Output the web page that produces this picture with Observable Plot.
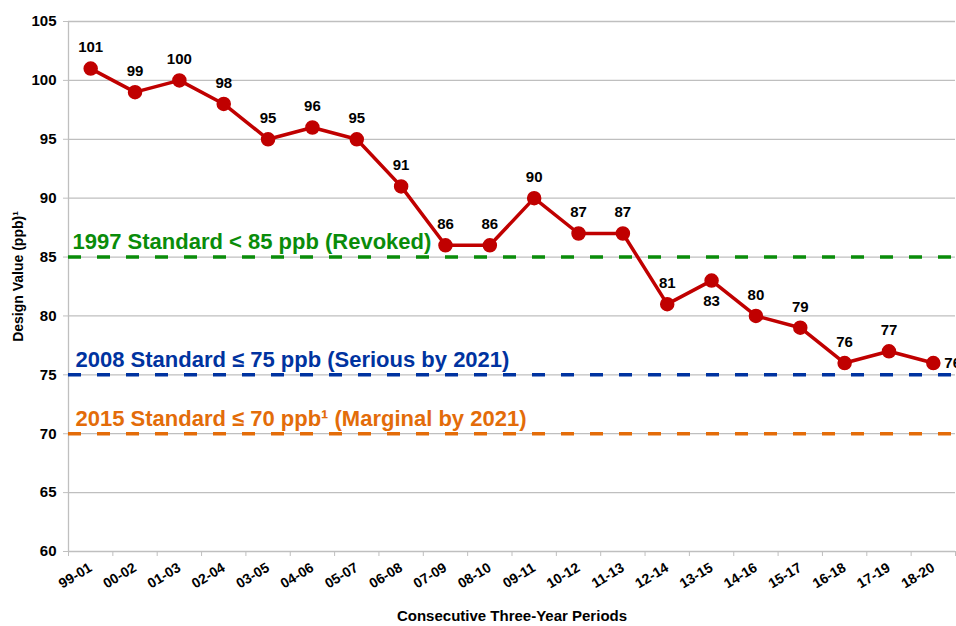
<!DOCTYPE html>
<html>
<head>
<meta charset="utf-8">
<script src="https://cdn.jsdelivr.net/npm/d3@7"></script>
<script src="https://cdn.jsdelivr.net/npm/@observablehq/plot@0.6"></script>
<style>
  html, body { margin: 0; padding: 0; background: #fff; }
  #chart svg { display: block; }
</style>
</head>
<body>
<div id="chart"></div>
<script>
const periods = ["99-01","00-02","01-03","02-04","03-05","04-06","05-07","06-08","07-09","08-10",
                 "09-11","10-12","11-13","12-14","13-15","14-16","15-17","16-18","17-19","18-20"];
const designValues = [101, 99, 100, 98, 95, 96, 95, 91, 86, 86, 90, 87, 87, 81, 83, 80, 79, 76, 77, 76];
const yTicks = [60, 65, 70, 75, 80, 85, 90, 95, 100, 105];
const stdValues = [85, 75, 70];
const stdLabels = [
  "1997 Standard < 85 ppb (Revoked)",
  "2008 Standard \u2264 75 ppb (Serious by 2021)",
  "2015 Standard \u2264 70 ppb\u00B9 (Marginal by 2021)"
];
const stdColors = ["#0A8C0A", "#0033A0", "#E36C09"];
const xTitle = "Consecutive Three-Year Periods";
const yTitle = "Design Value (ppb)\u00B9";

const data = periods.map((p, i) => ({i, period: p, v: designValues[i]}));
const centers = periods.map((p, i) => i);
const boundaries = d3.range(periods.length + 1).map(i => i - 0.5);
const last = data.length - 1;
const below = periods.indexOf("13-15");

const grid = "#BFBFBF";
const red = "#C00000";

const stdMarks = stdValues.flatMap((v, k) => [
  Plot.ruleY([v], {stroke: stdColors[k], strokeWidth: 3.5, strokeDasharray: "13,16"}),
  Plot.text([stdLabels[k]], {
    y: () => v, frameAnchor: "left", textAnchor: "start", lineAnchor: "bottom",
    dx: k === 0 ? 4 : 7, dy: -8, fill: stdColors[k], fontSize: 22, fontWeight: "bold"
  })
]);

const labelStyle = {fontSize: 15, fontWeight: "bold", fill: "#000"};

const chart = Plot.plot({
  width: 956,
  height: 626,
  marginTop: 21,
  marginBottom: 75,
  marginLeft: 68,
  marginRight: 1,
  style: {fontFamily: "'Liberation Sans', Arial, sans-serif", background: "#fff", color: "#000"},
  x: {type: "linear", domain: [boundaries[0], boundaries[boundaries.length - 1]], label: null},
  y: {domain: [yTicks[0], yTicks[yTicks.length - 1]], label: null},
  marks: [
    Plot.gridY(yTicks, {stroke: grid, strokeOpacity: 1, strokeWidth: 1.3}),
    Plot.ruleX([boundaries[0]], {stroke: grid, strokeWidth: 1.3}),
    Plot.axisY(yTicks, {tickSize: 5, stroke: grid, tickPadding: 7, fontSize: 15, fontWeight: "bold", label: null}),
    Plot.axisX(boundaries, {tickSize: 5, stroke: grid, tickFormat: () => "", label: null}),
    Plot.axisX(centers, {tickSize: 0, tickFormat: i => periods[i], tickRotate: -31, tickPadding: 15,
                         fontSize: 14, fontWeight: "bold", label: null}),
    ...stdMarks,
    Plot.line(data, {x: "i", y: "v", stroke: red, strokeWidth: 3.5}),
    Plot.dot(data, {x: "i", y: "v", r: 6.5, fill: red, stroke: red}),
    Plot.text(data.filter(d => d.i !== last && d.i !== below), {x: "i", y: "v", text: d => String(d.v), dy: -21, ...labelStyle}),
    Plot.text(data.filter(d => d.i === below), {x: "i", y: "v", text: d => String(d.v), dy: 21, ...labelStyle}),
    Plot.text(data.filter(d => d.i === last), {x: "i", y: "v", text: d => String(d.v), dx: 11,
              textAnchor: "start", ...labelStyle}),
    Plot.text([xTitle], {frameAnchor: "bottom", dy: 69, fontSize: 15, fontWeight: "bold", fill: "#000"}),
    Plot.text([yTitle], {frameAnchor: "left", textAnchor: "middle", rotate: -90, dx: -50, dy: -10,
                         fontSize: 14, fontWeight: "bold", fill: "#000"})
  ]
});
document.getElementById("chart").appendChild(chart);
</script>
</body>
</html>
